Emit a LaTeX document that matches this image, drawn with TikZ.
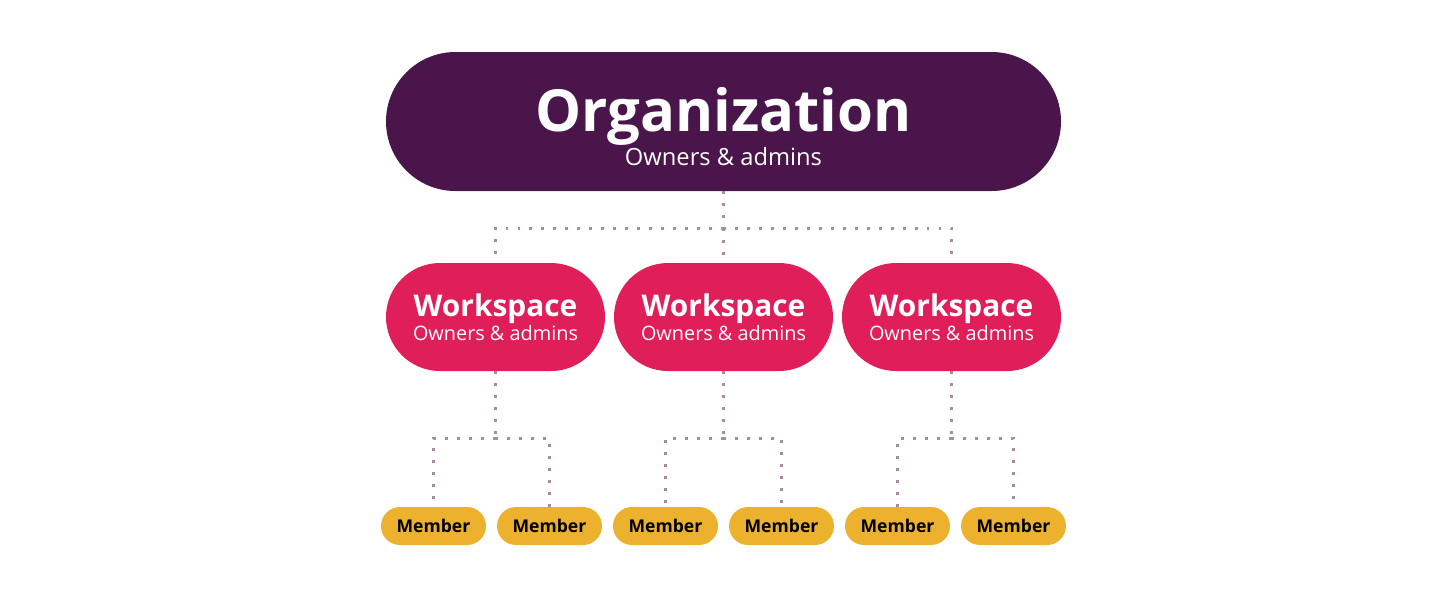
\documentclass[tikz,border=0pt]{standalone}
\usepackage{fontspec}
\setmainfont{Open Sans}
\usetikzlibrary{positioning, calc}
\definecolor{aubergine}{HTML}{4A154B}
\definecolor{slackred}{HTML}{E01E5A}
\definecolor{slackgold}{HTML}{ECB22E}
\definecolor{dotline}{HTML}{A68BA2}

\begin{document}
\begin{tikzpicture}[
      node distance=2cm, on grid,
      pill/.style={inner sep=0pt, align=center, text=white},
      orgbox/.style={pill, fill=aubergine, minimum width=13.5cm, minimum height=2.78cm, rounded corners=1.39cm},
      wsbox/.style={pill, fill=slackred, minimum width=4.38cm, minimum height=2.16cm, rounded corners=1.08cm},
      memberbox/.style={pill, fill=slackgold, text=black, minimum width=2.1cm, minimum height=0.76cm, rounded corners=0.38cm,
        font=\fontsize{10}{12}\selectfont\bfseries},
      link/.style={draw=dotline, line width=1.6pt, dash pattern=on 1.6pt off 5.2pt},
      ]
      \useasboundingbox (0,0) rectangle (29,-11.82);

      % top level
      \node[orgbox] (org) at (14.47,-2.43) {};
      \node[pill, align=center] (orgtext) at ([yshift=-0.1cm]org.center)
        {{\fontsize{33}{22.5}\selectfont\bfseries Organization}\\{\fontsize{13.5}{22.5}\selectfont Owners \& admins}};

      % workspaces
      \node[wsbox] (ws2) [below=3.91cm of org] {{\fontsize{17}{14.7}\selectfont\bfseries Workspace}\\{\fontsize{11.3}{14.7}\selectfont Owners \& admins}};
      \node[wsbox] (ws1) [left=4.56cm of ws2]  {{\fontsize{17}{14.7}\selectfont\bfseries Workspace}\\{\fontsize{11.3}{14.7}\selectfont Owners \& admins}};
      \node[wsbox] (ws3) [right=4.56cm of ws2] {{\fontsize{17}{14.7}\selectfont\bfseries Workspace}\\{\fontsize{11.3}{14.7}\selectfont Owners \& admins}};

      % members
      \node[memberbox] (m1a) at (8.67,-10.52) {Member};
      \node[memberbox] (m1b) [right=2.32cm of m1a] {Member};
      \node[memberbox] (m2a) [right=2.32cm of m1b] {Member};
      \node[memberbox] (m2b) [right=2.32cm of m2a] {Member};
      \node[memberbox] (m3a) [right=2.32cm of m2b] {Member};
      \node[memberbox] (m3b) [right=2.32cm of m3a] {Member};

      % links
      \coordinate (hub) at ($(org.south)+(0,-0.74)$);
      \draw[link] (org.south) -- (hub);
      \foreach \w in {1,2,3}
        \draw[link] (hub) -| (ws\w.north);
      \foreach \w in {1,2,3} {
        \coordinate (split\w) at ($(ws\w.south)+(0,-1.34)$);
        \draw[link] (ws\w.south) -- (split\w);
        \draw[link] (split\w) -| (m\w a.north);
        \draw[link] (split\w) -| (m\w b.north);
      }
    \end{tikzpicture}
\end{document}
